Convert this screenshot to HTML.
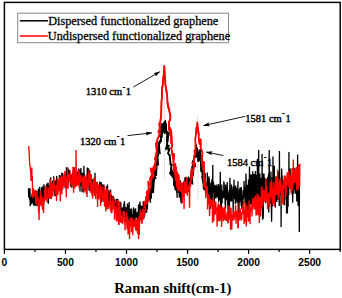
<!DOCTYPE html>
<html><head><meta charset="utf-8"><style>
html,body{margin:0;padding:0;background:#fff;}
svg{display:block;}
.ser{font-family:"Liberation Serif",serif;}
</style></head><body>
<svg width="342" height="298" viewBox="0 0 342 298">
<rect x="0" y="0" width="342" height="298" fill="#fff"/>
<line x1="164.7" y1="97" x2="164.7" y2="121" stroke="#999" stroke-width="0.6" stroke-dasharray="1,1"/>
<line x1="197.6" y1="116.5" x2="197.6" y2="123" stroke="#aaa" stroke-width="0.6" stroke-dasharray="1,1"/>
<line x1="164.5" y1="135" x2="164.5" y2="180" stroke="#aaa" stroke-width="0.6" stroke-dasharray="1,1"/>
<line x1="198" y1="165" x2="198" y2="200" stroke="#aaa" stroke-width="0.6" stroke-dasharray="1,1"/>
<polyline fill="none" stroke="#000" stroke-width="1.3" stroke-linejoin="miter" points="28.50,188.2 28.67,196.6 28.84,196.9 29.01,188.6 29.18,190.6 29.35,190.6 29.52,197.3 29.69,194.9 29.86,200.3 30.03,188.2 30.20,206.2 30.37,197.3 30.54,201.9 30.71,197.8 30.88,196.9 31.05,201.7 31.22,204.1 31.39,198.8 31.56,199.4 31.73,204.3 31.90,196.6 32.07,193.7 32.24,203.1 32.41,197.6 32.58,191.6 32.75,196.8 32.92,198.4 33.09,194.9 33.26,193.4 33.43,200.7 33.60,205.5 33.77,199.3 33.94,196.8 34.11,202.5 34.28,204.3 34.45,198.7 34.62,203.2 34.79,205.9 34.96,199.0 35.13,196.0 35.30,201.7 35.47,201.0 35.64,205.6 35.81,193.2 35.98,196.0 36.15,195.1 36.32,190.6 36.49,199.5 36.66,201.6 36.83,195.0 37.00,206.2 37.17,202.9 37.34,201.6 37.51,200.2 37.68,203.2 37.85,191.3 38.02,201.0 38.19,200.8 38.36,188.8 38.53,199.1 38.70,195.8 38.87,201.3 39.04,194.7 39.21,196.5 39.38,198.4 39.55,186.7 39.72,199.6 39.89,195.6 40.06,198.7 40.23,193.3 40.40,201.8 40.57,198.9 40.74,194.6 40.91,198.8 41.08,202.2 41.25,205.0 41.42,187.3 41.59,199.7 41.76,197.2 41.93,194.0 42.10,189.5 42.27,201.2 42.44,188.0 42.61,197.1 42.78,201.1 42.95,186.0 43.12,192.1 43.29,187.1 43.46,194.6 43.63,201.6 43.80,204.3 43.97,184.3 44.14,189.9 44.31,196.5 44.48,201.3 44.65,194.6 44.82,188.6 44.99,193.7 45.16,191.8 45.33,190.8 45.50,188.1 45.67,193.6 45.84,193.1 46.01,190.7 46.18,190.0 46.35,184.8 46.52,188.5 46.69,197.4 46.86,189.6 47.03,183.5 47.20,197.7 47.37,193.1 47.54,201.8 47.71,190.2 47.88,187.5 48.05,182.6 48.22,196.8 48.39,203.7 48.56,185.2 48.73,185.9 48.90,192.2 49.07,184.8 49.24,187.3 49.41,186.8 49.58,189.4 49.75,194.3 49.92,188.2 50.09,193.1 50.26,185.8 50.43,189.5 50.60,177.3 50.77,180.5 50.94,197.6 51.11,184.4 51.28,190.4 51.45,190.0 51.62,194.3 51.79,191.3 51.96,192.3 52.13,186.0 52.30,183.0 52.47,182.8 52.64,183.8 52.81,180.6 52.98,183.3 53.15,185.4 53.32,187.1 53.49,183.9 53.66,176.2 53.83,185.0 54.00,186.5 54.17,191.2 54.34,188.2 54.51,181.8 54.68,181.2 54.85,195.9 55.02,188.7 55.19,194.6 55.36,196.2 55.53,180.2 55.70,186.2 55.87,186.5 56.04,186.9 56.21,186.7 56.38,184.7 56.55,184.4 56.72,176.1 56.89,182.4 57.06,179.5 57.23,183.6 57.40,180.6 57.57,186.2 57.74,187.2 57.91,184.2 58.08,184.1 58.25,182.7 58.42,180.0 58.59,181.2 58.76,179.5 58.93,183.9 59.10,181.7 59.27,184.8 59.44,175.0 59.61,186.2 59.78,177.5 59.95,177.5 60.12,180.0 60.29,178.2 60.46,182.4 60.63,178.0 60.80,175.5 60.97,176.6 61.14,187.9 61.31,180.7 61.48,174.8 61.65,180.4 61.82,172.8 61.99,190.2 62.16,172.8 62.33,182.7 62.50,183.0 62.67,173.0 62.84,181.5 63.01,185.4 63.18,182.3 63.35,181.1 63.52,184.9 63.69,180.4 63.86,181.3 64.03,178.8 64.20,182.9 64.37,174.7 64.54,183.6 64.71,176.7 64.88,173.8 65.05,181.0 65.22,188.4 65.39,184.2 65.56,176.3 65.73,182.6 65.90,176.5 66.07,178.0 66.24,179.0 66.41,167.3 66.58,179.4 66.75,173.4 66.92,174.9 67.09,171.1 67.26,170.8 67.43,173.5 67.60,182.6 67.77,187.2 67.94,177.7 68.11,183.9 68.28,176.4 68.45,168.4 68.62,178.4 68.79,180.0 68.96,175.4 69.13,179.0 69.30,180.5 69.47,173.1 69.64,170.1 69.81,176.0 69.98,176.0 70.15,175.3 70.32,182.5 70.49,186.6 70.66,174.9 70.83,180.8 71.00,182.1 71.17,180.8 71.34,182.7 71.51,174.9 71.68,180.9 71.85,188.1 72.02,181.2 72.19,173.8 72.36,180.1 72.53,183.8 72.70,178.7 72.87,173.9 73.04,185.3 73.21,170.6 73.38,179.4 73.55,176.5 73.72,170.8 73.89,183.3 74.06,178.4 74.23,170.9 74.40,179.8 74.57,174.4 74.74,167.3 74.91,173.1 75.08,177.8 75.25,179.9 75.42,177.2 75.59,176.6 75.76,178.9 75.93,175.2 76.10,182.8 76.27,177.0 76.44,177.8 76.61,179.2 76.78,171.1 76.95,172.7 77.12,184.7 77.29,178.0 77.46,174.7 77.63,178.0 77.80,173.7 77.97,177.6 78.14,172.8 78.31,177.6 78.48,168.6 78.65,183.6 78.82,173.8 78.99,168.7 79.16,175.3 79.33,174.6 79.50,177.3 79.67,171.0 79.84,178.8 80.01,191.6 80.18,170.5 80.35,178.6 80.52,175.2 80.69,179.2 80.86,168.1 81.03,171.3 81.20,179.5 81.37,176.8 81.54,186.2 81.71,173.7 81.88,178.1 82.05,192.2 82.22,173.5 82.39,172.9 82.56,177.1 82.73,177.1 82.90,182.1 83.07,178.2 83.24,173.9 83.41,178.7 83.58,192.4 83.75,184.8 83.92,165.7 84.09,177.1 84.26,173.6 84.43,181.3 84.60,177.1 84.77,188.8 84.94,183.2 85.11,183.1 85.28,179.2 85.45,178.1 85.62,180.3 85.79,185.7 85.96,181.6 86.13,177.0 86.30,185.9 86.47,180.0 86.64,178.6 86.81,175.3 86.98,176.5 87.15,176.2 87.32,167.4 87.49,185.2 87.66,182.8 87.83,178.7 88.00,185.7 88.17,182.4 88.34,182.1 88.51,168.2 88.68,179.1 88.85,183.3 89.02,189.4 89.19,190.8 89.36,188.6 89.53,175.1 89.70,170.3 89.87,184.1 90.04,181.2 90.21,186.5 90.38,180.6 90.55,182.6 90.72,174.2 90.89,184.0 91.06,179.5 91.23,183.7 91.40,184.4 91.57,181.4 91.74,183.8 91.91,182.1 92.08,186.5 92.25,185.2 92.42,179.8 92.59,179.7 92.76,192.4 92.93,182.3 93.10,188.4 93.27,185.2 93.44,180.4 93.61,179.6 93.78,183.9 93.95,184.8 94.12,186.9 94.29,177.5 94.46,180.8 94.63,183.3 94.80,192.8 94.97,172.7 95.14,186.6 95.31,181.7 95.48,186.9 95.65,182.3 95.82,189.5 95.99,193.8 96.16,187.1 96.33,187.8 96.50,187.6 96.67,182.1 96.84,188.9 97.01,185.0 97.18,182.3 97.35,186.2 97.52,185.4 97.69,190.9 97.86,186.7 98.03,184.5 98.20,195.4 98.37,192.9 98.54,194.7 98.71,191.1 98.88,187.4 99.05,186.0 99.22,186.9 99.39,193.7 99.56,189.2 99.73,181.6 99.90,188.7 100.07,182.3 100.24,190.2 100.41,183.6 100.58,183.5 100.75,190.4 100.92,189.5 101.09,182.1 101.26,194.5 101.43,202.5 101.60,183.5 101.77,201.0 101.94,187.6 102.11,188.7 102.28,190.4 102.45,184.5 102.62,198.9 102.79,194.5 102.96,188.4 103.13,190.8 103.30,185.0 103.47,190.8 103.64,197.9 103.81,184.6 103.98,190.9 104.15,195.0 104.32,199.2 104.49,201.0 104.66,191.5 104.83,190.3 105.00,196.5 105.17,192.4 105.34,192.9 105.51,200.6 105.68,204.1 105.85,196.3 106.02,194.1 106.19,198.4 106.36,186.3 106.53,195.4 106.70,190.6 106.87,209.3 107.04,200.1 107.21,197.0 107.38,195.4 107.55,184.6 107.72,200.7 107.89,206.0 108.06,193.6 108.23,201.1 108.40,201.4 108.57,190.1 108.74,203.0 108.91,205.5 109.08,199.4 109.25,197.9 109.42,202.8 109.59,191.2 109.76,199.3 109.93,204.8 110.10,193.1 110.27,204.8 110.44,197.4 110.61,189.6 110.78,199.3 110.95,195.3 111.12,201.9 111.29,194.7 111.46,206.3 111.63,197.1 111.80,202.8 111.97,198.1 112.14,199.6 112.31,208.0 112.48,202.7 112.65,199.8 112.82,195.8 112.99,208.5 113.16,206.3 113.33,200.8 113.50,203.9 113.67,197.7 113.84,198.0 114.01,199.0 114.18,205.2 114.35,205.0 114.52,199.9 114.69,207.8 114.86,208.3 115.03,205.0 115.20,210.0 115.37,202.9 115.54,203.9 115.71,207.2 115.88,204.5 116.05,209.3 116.22,199.0 116.39,213.1 116.56,201.5 116.73,204.6 116.90,198.9 117.07,209.0 117.24,212.9 117.41,211.9 117.58,210.7 117.75,198.7 117.92,202.6 118.09,204.3 118.26,202.1 118.43,213.0 118.60,207.9 118.77,206.9 118.94,209.9 119.11,202.7 119.28,203.1 119.45,203.3 119.62,210.5 119.79,209.7 119.96,211.2 120.13,214.1 120.30,201.7 120.47,205.7 120.64,209.3 120.81,202.2 120.98,206.2 121.15,214.6 121.32,215.2 121.49,215.2 121.66,209.6 121.83,208.4 122.00,215.6 122.17,207.9 122.34,211.8 122.51,217.4 122.68,208.4 122.85,207.3 123.02,210.4 123.19,213.9 123.36,213.4 123.53,211.7 123.70,214.1 123.87,203.4 124.04,207.1 124.21,212.3 124.38,201.3 124.55,205.2 124.72,206.0 124.89,207.5 125.06,211.2 125.23,207.2 125.40,213.5 125.57,221.8 125.74,211.7 125.91,219.6 126.08,214.2 126.25,207.2 126.42,211.5 126.59,208.1 126.76,217.2 126.93,207.4 127.10,220.5 127.27,216.4 127.44,203.5 127.61,217.7 127.78,222.1 127.95,209.7 128.12,219.1 128.29,205.0 128.46,215.1 128.63,205.8 128.80,216.6 128.97,205.4 129.14,202.1 129.31,216.4 129.48,225.0 129.65,211.5 129.82,219.1 129.99,215.1 130.16,213.0 130.33,218.1 130.50,223.9 130.67,208.9 130.84,218.1 131.01,216.9 131.18,208.2 131.35,224.0 131.52,225.0 131.69,210.4 131.86,224.7 132.03,215.3 132.20,214.2 132.37,223.4 132.54,216.3 132.71,216.8 132.88,223.5 133.05,222.2 133.22,220.0 133.39,208.3 133.56,207.5 133.73,221.3 133.90,210.6 134.07,215.8 134.24,209.8 134.41,214.1 134.58,208.9 134.75,224.1 134.92,210.1 135.09,214.4 135.26,214.1 135.43,221.8 135.60,208.2 135.77,214.8 135.94,214.0 136.11,218.0 136.28,217.6 136.45,212.8 136.62,216.3 136.79,213.2 136.96,217.6 137.13,214.5 137.30,211.9 137.47,214.9 137.64,217.0 137.81,225.0 137.98,212.6 138.15,216.6 138.32,222.9 138.49,204.6 138.66,206.1 138.83,208.6 139.00,213.7 139.17,225.0 139.34,216.1 139.51,220.6 139.68,212.6 139.85,201.7 140.02,202.3 140.19,219.0 140.36,214.1 140.53,206.7 140.70,219.1 140.87,205.3 141.04,218.9 141.21,220.6 141.38,208.6 141.55,206.8 141.72,216.8 141.89,206.6 142.06,216.6 142.23,205.9 142.40,216.0 142.57,211.9 142.74,209.1 142.91,206.8 143.08,212.1 143.25,201.2 143.42,208.6 143.59,207.5 143.76,212.8 143.93,202.5 144.10,217.7 144.27,206.1 144.44,201.7 144.61,214.5 144.78,215.6 144.95,204.9 145.12,201.1 145.29,205.0 145.46,201.1 145.63,202.5 145.80,212.3 145.97,205.3 146.56,203.4 146.60,206.6 145.82,201.4 147.23,206.0 146.28,205.7 146.11,198.6 147.24,200.5 146.53,213.0 146.85,201.4 147.73,197.7 147.35,209.6 147.48,197.7 148.45,191.9 149.02,200.5 148.96,192.0 149.23,193.4 147.97,197.2 149.42,194.3 149.19,190.7 148.94,191.2 149.36,190.5 149.48,199.4 149.25,188.9 148.88,189.1 150.44,202.7 150.54,188.1 151.36,198.6 151.41,197.1 151.01,188.5 151.58,181.9 152.16,190.7 150.99,191.4 151.42,192.5 151.91,186.9 151.11,192.6 151.44,193.1 152.66,179.7 152.17,192.2 152.87,184.6 152.70,180.3 153.68,180.9 153.27,192.4 153.36,186.8 153.28,172.1 153.01,180.6 152.86,178.8 155.56,178.1 154.32,175.9 154.92,170.8 153.94,182.0 154.92,172.1 155.04,174.3 154.46,172.6 156.36,172.6 156.22,175.4 155.39,173.5 156.33,169.7 156.54,168.0 156.35,168.2 156.49,170.9 156.43,167.7 156.52,166.9 155.82,164.5 156.59,163.6 157.30,163.8 157.04,157.4 158.02,165.2 157.59,157.7 157.20,157.1 157.12,160.9 157.48,156.8 158.19,155.1 158.25,152.3 156.92,148.6 159.05,151.9 159.85,153.4 158.64,146.4 159.51,150.7 158.94,142.6 160.35,142.1 159.26,143.7 159.80,140.8 160.94,141.1 160.81,135.8 160.23,133.5 161.33,129.8 161.14,130.0 161.57,128.8 161.10,126.6 161.27,131.6 161.44,128.4 161.61,124.2 161.78,137.4 161.95,127.2 162.12,125.7 162.29,133.0 162.46,132.5 162.63,125.3 162.80,124.0 162.97,125.1 163.14,131.1 163.31,126.4 163.48,124.6 163.65,126.9 163.82,130.5 163.99,122.6 164.16,125.6 164.33,122.5 164.50,133.1 164.67,132.0 164.84,129.5 165.01,126.5 165.18,129.0 165.35,120.9 165.52,128.3 165.69,123.6 165.86,123.9 166.03,126.1 166.20,128.3 166.37,132.2 166.54,133.7 166.71,133.6 166.88,131.3 167.97,137.5 168.20,136.4 166.86,141.6 167.06,136.6 168.05,132.3 167.72,140.5 166.18,148.8 168.83,145.7 167.65,145.3 168.40,149.4 168.34,149.8 168.71,151.2 169.46,148.5 168.17,153.3 169.24,155.2 168.68,154.5 169.57,154.8 170.10,159.7 170.69,163.4 170.13,164.1 171.94,165.0 171.18,165.9 171.53,172.1 171.40,166.9 170.98,169.8 171.01,173.0 170.92,168.9 171.66,170.3 169.98,173.1 171.69,175.6 172.13,172.9 171.48,173.9 171.85,174.0 172.90,171.4 173.19,177.9 173.19,174.9 171.81,171.6 174.45,176.3 173.37,172.7 175.49,175.1 173.82,178.3 174.34,168.6 173.92,185.3 174.74,172.8 175.56,181.9 174.99,184.1 175.48,189.7 175.44,187.2 174.21,183.9 175.76,183.5 175.14,183.3 176.02,190.5 175.30,181.5 176.87,188.0 175.90,184.9 177.66,186.9 176.36,184.5 177.26,197.9 176.13,183.0 177.19,187.8 176.81,188.2 177.78,190.2 178.47,189.6 178.44,189.6 177.56,193.0 178.10,180.5 178.27,188.0 178.44,182.2 178.61,189.6 178.78,182.9 178.95,184.1 179.12,188.7 179.29,197.0 179.46,192.6 179.63,191.3 179.80,197.7 179.97,185.5 180.14,180.0 180.31,187.9 180.48,188.5 180.65,196.7 180.82,201.7 180.99,183.3 181.16,203.5 181.33,198.3 181.50,194.2 181.67,191.5 181.84,202.9 182.01,189.7 182.18,186.9 182.35,189.9 182.52,182.5 182.69,191.6 182.86,188.4 183.03,190.7 183.20,190.8 183.37,183.6 183.54,196.0 183.71,183.7 183.88,193.5 184.05,180.8 184.22,190.5 184.39,184.4 184.56,188.5 184.73,185.1 184.90,177.6 185.07,182.6 185.24,188.2 185.41,191.1 185.58,180.3 185.75,176.9 185.92,182.7 186.09,185.7 186.26,183.5 186.43,182.4 186.60,190.8 186.77,191.3 186.94,189.8 187.11,180.9 187.28,185.7 187.45,184.1 187.62,177.9 187.79,189.5 187.96,184.9 188.13,181.8 188.30,191.9 188.47,188.0 188.64,188.3 188.81,190.0 188.98,187.1 188.44,176.6 189.10,180.4 188.86,187.5 190.28,177.7 190.04,181.2 190.35,182.8 189.30,188.2 189.75,187.0 189.93,184.3 190.87,178.0 191.06,183.6 189.69,181.0 191.95,176.6 192.53,184.3 190.45,178.9 191.17,171.8 192.32,181.9 191.58,173.4 191.99,175.3 192.25,168.3 191.45,172.2 192.38,168.6 192.14,167.7 192.83,164.0 193.23,175.3 193.56,167.6 193.62,167.9 193.29,169.7 194.03,165.1 195.29,166.0 193.73,159.3 192.52,162.8 193.93,159.9 194.02,161.5 193.86,159.4 194.75,153.5 194.74,151.0 195.39,152.4 195.89,157.0 197.23,155.6 196.33,155.1 196.12,147.4 196.29,145.0 196.46,150.8 196.63,151.2 196.80,150.0 196.97,152.4 197.14,150.6 197.31,148.2 197.48,149.7 197.65,153.4 197.82,153.8 197.99,154.0 198.16,161.6 198.33,154.6 198.50,156.4 198.67,153.4 198.84,155.7 198.96,158.7 197.96,159.3 198.42,157.5 198.79,161.1 199.47,158.9 198.65,153.5 200.13,149.7 201.00,166.8 200.67,162.7 201.34,160.5 200.54,155.9 201.18,158.3 201.10,167.4 201.63,156.0 201.94,164.5 200.84,169.2 200.84,168.1 201.26,171.1 202.69,169.5 202.55,178.2 203.02,169.1 202.05,169.2 202.80,175.2 203.22,179.8 201.94,175.9 203.01,183.7 203.63,173.7 203.74,169.7 203.31,187.7 203.82,189.3 204.53,189.7 204.60,177.2 204.90,172.7 204.87,173.2 204.74,180.4 205.28,186.3 205.13,190.7 205.30,173.6 205.47,185.5 205.64,184.9 205.81,186.0 205.98,185.8 206.15,184.7 206.32,190.2 206.49,187.3 206.66,188.1 206.83,182.0 207.00,189.6 207.17,186.3 207.34,172.5 207.51,190.7 207.68,183.4 207.85,193.9 208.02,186.9 208.19,187.5 208.36,189.7 208.53,188.4 208.70,181.5 208.87,176.3 209.04,201.0 209.21,178.2 209.38,187.0 209.55,199.3 209.72,195.4 209.89,193.6 210.06,195.0 210.23,198.3 210.40,192.1 210.57,209.1 210.74,183.2 210.91,191.8 211.08,187.9 211.25,181.7 211.42,192.4 211.59,200.1 211.76,185.7 211.93,179.3 212.10,195.5 212.27,194.4 212.44,203.6 212.61,197.7 212.78,165.0 212.95,188.8 213.12,192.6 213.29,190.0 213.46,181.7 213.63,191.4 213.80,190.2 213.97,189.9 214.14,188.5 214.31,202.6 214.48,196.2 214.65,197.8 214.82,187.6 214.99,184.7 215.16,190.0 215.33,193.6 215.50,189.6 215.67,189.1 215.84,198.4 216.01,194.2 216.18,185.4 216.35,189.4 216.52,187.8 216.69,193.7 216.86,184.4 217.03,191.4 217.20,197.2 217.37,193.0 217.54,186.4 217.71,188.6 217.88,193.8 218.05,196.2 218.22,198.5 218.39,192.1 218.56,183.9 218.73,202.5 218.90,195.2 219.07,195.9 219.24,195.3 219.41,186.1 219.58,191.2 219.75,195.2 219.92,200.3 220.09,194.0 220.26,171.8 220.43,192.0 220.60,196.0 220.77,213.1 220.94,198.5 221.11,210.1 221.28,215.2 221.45,202.7 221.62,200.2 221.79,184.4 221.96,199.6 222.13,203.1 222.30,190.5 222.47,198.1 222.64,197.0 222.81,191.1 222.98,193.6 223.15,192.6 223.32,198.0 223.49,191.6 223.66,198.2 223.83,181.2 224.00,192.7 224.17,183.0 224.34,191.4 224.51,198.2 224.68,195.0 224.85,194.2 225.02,195.5 225.19,205.3 225.36,187.4 225.53,208.4 225.70,184.6 225.87,192.0 226.04,196.4 226.21,189.4 226.38,196.7 226.55,200.2 226.72,187.1 226.89,195.0 227.06,193.0 227.23,182.1 227.40,192.7 227.57,190.1 227.74,204.5 227.91,189.7 228.08,221.3 228.25,192.2 228.42,208.6 228.59,199.5 228.76,199.0 228.93,201.4 229.10,202.0 229.27,205.3 229.44,207.5 229.61,193.9 229.78,187.6 229.95,177.7 230.12,193.8 230.29,201.5 230.46,199.0 230.63,197.4 230.80,194.2 230.97,192.2 231.14,194.8 231.31,199.3 231.48,184.5 231.65,201.6 231.82,186.7 231.99,195.9 232.16,192.6 232.33,194.4 232.50,189.7 232.67,188.9 232.84,195.4 233.01,189.4 233.18,213.0 233.35,194.1 233.52,186.3 233.69,193.1 233.86,189.5 234.03,179.8 234.20,195.2 234.37,199.0 234.54,186.4 234.71,197.0 234.88,188.5 235.05,196.7 235.22,199.3 235.39,204.1 235.56,203.4 235.73,185.5 235.90,202.7 236.07,193.8 236.24,199.2 236.41,201.5 236.58,194.8 236.75,188.0 236.92,200.9 237.09,189.1 237.26,190.7 237.43,189.2 237.60,202.4 237.77,195.8 237.94,181.2 238.11,201.7 238.28,227.8 238.45,208.6 238.62,193.0 238.79,197.4 238.96,200.2 239.13,202.7 239.30,197.2 239.47,189.3 239.64,201.8 239.81,206.0 239.98,187.6 240.15,194.3 240.32,200.8 240.49,196.6 240.66,200.1 240.83,201.9 241.00,200.1 241.17,195.8 241.34,187.1 241.51,200.5 241.68,205.5 241.85,209.2 242.02,196.1 242.19,196.0 242.36,205.6 242.53,205.5 242.70,198.3 242.87,200.7 243.04,190.7 243.21,199.7 243.38,190.1 243.55,194.8 243.72,194.9 243.89,192.5 244.06,180.9 244.23,189.8 244.40,197.8 244.57,195.1 244.74,192.7 244.91,198.2 245.08,202.2 245.25,203.8 245.42,186.7 245.59,195.4 245.76,191.6 245.93,173.6 246.10,179.3 246.27,193.9 246.44,185.7 246.61,216.4 246.78,193.8 246.95,192.4 247.12,190.5 247.29,213.4 247.46,184.7 247.63,192.8 247.80,186.4 247.97,193.1 248.14,194.0 248.31,205.3 248.48,179.4 248.65,194.0 248.82,210.4 248.99,188.8 249.16,192.2 249.33,184.7 249.50,166.5 249.67,192.8 249.84,205.6 250.01,188.9 250.18,174.4 250.35,199.6 250.52,194.5 250.69,203.6 250.86,202.7 251.03,190.7 251.20,197.5 251.37,174.5 251.54,204.5 251.71,197.4 251.88,204.1 252.05,203.8 252.22,190.1 252.39,191.5 252.56,183.9 252.73,171.3 252.90,191.6 253.07,196.2 253.24,181.4 253.41,199.9 253.58,193.7 253.75,197.2 253.92,184.6 254.09,174.1 254.26,200.3 254.43,198.6 254.60,191.3 254.77,188.0 254.94,189.4 255.11,190.9 255.28,179.7 255.45,171.1 255.62,200.0 255.79,176.4 255.96,188.5 256.13,188.8 256.30,194.6 256.47,174.9 256.64,203.9 256.81,198.4 256.98,199.5 257.15,204.4 257.32,172.2 257.49,158.7 257.66,194.9 257.83,204.7 258.00,203.1 258.17,185.8 258.34,190.4 258.51,194.2 258.68,150.0 258.85,184.3 259.02,184.5 259.19,207.0 259.36,184.3 259.53,206.8 259.70,191.2 259.87,173.4 260.04,213.1 260.21,180.7 260.38,197.1 260.55,207.9 260.72,185.2 260.89,177.9 261.06,201.2 261.23,192.3 261.40,177.8 261.57,179.3 261.74,186.6 261.91,200.3 262.08,154.0 262.25,197.1 262.42,207.0 262.59,219.7 262.76,204.8 262.93,202.7 263.10,173.5 263.27,218.5 263.44,193.6 263.61,189.0 263.78,178.9 263.95,173.5 264.12,178.5 264.29,189.9 264.46,177.8 264.63,181.5 264.80,183.6 264.97,196.7 265.14,182.8 265.31,188.4 265.48,203.2 265.65,186.5 265.82,195.8 265.99,178.7 266.16,193.1 266.33,190.9 266.50,191.5 266.67,184.8 266.84,178.8 267.01,186.5 267.18,184.7 267.35,199.9 267.52,198.6 267.69,176.8 267.86,195.7 268.03,177.8 268.20,193.9 268.37,184.3 268.54,173.8 268.71,212.6 268.88,193.7 269.05,176.3 269.22,150.0 269.39,183.5 269.56,176.7 269.73,185.2 269.90,195.2 270.07,203.7 270.24,185.2 270.41,202.7 270.58,200.6 270.75,184.4 270.92,171.4 271.09,197.4 271.26,195.0 271.43,212.4 271.60,221.8 271.77,206.9 271.94,205.7 272.11,177.8 272.28,193.3 272.45,185.9 272.62,206.2 272.79,194.4 272.96,156.6 273.13,202.4 273.30,179.2 273.47,196.5 273.64,183.7 273.81,191.2 273.98,195.1 274.15,190.6 274.32,165.8 274.49,202.7 274.66,192.6 274.83,188.5 275.00,195.7 275.17,183.0 275.34,207.5 275.51,190.9 275.68,192.3 275.85,192.1 276.02,179.0 276.19,176.2 276.36,190.7 276.53,192.1 276.70,202.0 276.87,193.0 277.04,177.1 277.21,193.7 277.38,196.7 277.55,198.5 277.72,191.8 277.89,175.6 278.06,200.0 278.23,180.7 278.40,194.1 278.57,171.8 278.74,196.0 278.91,180.1 279.08,199.1 279.25,205.9 279.42,151.0 279.59,176.0 279.76,178.3 279.93,179.1 280.10,194.8 280.27,191.6 280.44,189.7 280.61,191.2 280.78,193.9 280.95,194.6 281.12,227.1 281.29,187.5 281.46,190.0 281.63,168.5 281.80,174.1 281.97,180.7 282.14,175.5 282.31,190.1 282.48,198.3 282.65,183.3 282.82,182.7 282.99,182.4 283.16,189.1 283.33,182.0 283.50,192.0 283.67,190.7 283.84,191.1 284.01,195.3 284.18,187.9 284.35,189.0 284.52,205.2 284.69,187.1 284.86,195.5 285.03,188.1 285.20,176.4 285.37,182.7 285.54,178.8 285.71,187.5 285.88,181.1 286.05,182.9 286.22,199.6 286.39,185.9 286.56,213.5 286.73,190.0 286.90,195.9 287.07,180.9 287.24,188.7 287.41,213.6 287.58,195.5 287.75,197.2 287.92,189.5 288.09,206.8 288.26,174.9 288.43,178.2 288.60,191.4 288.77,195.3 288.94,152.0 289.11,185.1 289.28,183.2 289.45,182.3 289.62,174.4 289.79,171.9 289.96,184.8 290.13,168.6 290.30,176.6 290.47,179.9 290.64,175.8 290.81,189.2 290.98,182.2 291.15,186.0 291.32,176.2 291.49,179.0 291.66,191.9 291.83,190.4 292.00,181.9 292.17,194.8 292.34,188.6 292.51,188.3 292.68,202.7 292.85,182.5 293.02,190.9 293.19,190.9 293.36,184.2 293.53,174.5 293.70,193.6 293.87,189.3 294.04,187.2 294.21,186.9 294.38,186.7 294.55,177.2 294.72,189.6 294.89,167.7 295.06,186.3 295.23,170.9 295.40,182.9 295.57,193.7 295.74,183.8 295.91,181.5 296.08,191.7 296.25,183.7 296.42,182.2 296.59,176.3 296.76,201.6 296.93,193.1 297.10,191.3 297.27,174.0 297.44,192.7 297.61,154.5 297.78,191.2 297.95,174.7 298.12,206.0 298.29,168.7 298.46,198.6 298.63,194.4 298.80,167.7 298.97,183.8 299.14,200.8 299.31,232.0 299.48,169.0"/>
<polyline fill="none" stroke="#000" stroke-width="1.7" stroke-linejoin="round" points="152.16,190.7 152.66,179.7 152.17,192.2 152.87,184.6 152.70,180.3 153.68,180.9 153.27,192.4 153.36,186.8 153.28,172.1 153.01,180.6 152.86,178.8 155.56,178.1 154.32,175.9 154.92,170.8 153.94,182.0 154.92,172.1 155.04,174.3 154.46,172.6 156.36,172.6 156.22,175.4 155.39,173.5 156.33,169.7 156.54,168.0 156.35,168.2 156.49,170.9 156.43,167.7 156.52,166.9 155.82,164.5 156.59,163.6 157.30,163.8 157.04,157.4 158.02,165.2 157.59,157.7 157.20,157.1 157.12,160.9 157.48,156.8 158.19,155.1 158.25,152.3 156.92,148.6 159.05,151.9 159.85,153.4 158.64,146.4 159.51,150.7 158.94,142.6 160.35,142.1 159.26,143.7 159.80,140.8 160.94,141.1 160.81,135.8 160.23,133.5 161.33,129.8 161.14,130.0 161.57,128.8 161.10,126.6 161.27,131.6 161.44,128.4 161.61,124.2 161.78,137.4 161.95,127.2 162.12,125.7 162.29,133.0 162.46,132.5 162.63,125.3 162.80,124.0 162.97,125.1 163.14,131.1 163.31,126.4 163.48,124.6 163.65,126.9 163.82,130.5 163.99,122.6 164.16,125.6 164.33,122.5 164.50,133.1 164.67,132.0 164.84,129.5 165.01,126.5 165.18,129.0 165.35,120.9 165.52,128.3 165.69,123.6 165.86,123.9 166.03,126.1 166.20,128.3 166.37,132.2 166.54,133.7 166.71,133.6 166.88,131.3 167.97,137.5 168.20,136.4 166.86,141.6 167.06,136.6 168.05,132.3 167.72,140.5 166.18,148.8 168.83,145.7 167.65,145.3 168.40,149.4 168.34,149.8 168.71,151.2 169.46,148.5 168.17,153.3 169.24,155.2 168.68,154.5 169.57,154.8 170.10,159.7 170.69,163.4 170.13,164.1 171.94,165.0 171.18,165.9 171.53,172.1 171.40,166.9 170.98,169.8 171.01,173.0 170.92,168.9 171.66,170.3 169.98,173.1 171.69,175.6 172.13,172.9 171.48,173.9 171.85,174.0 172.90,171.4 173.19,177.9 173.19,174.9 171.81,171.6 174.45,176.3 173.37,172.7 175.49,175.1 173.82,178.3 174.34,168.6 173.92,185.3 174.74,172.8 175.56,181.9 174.99,184.1 175.48,189.7 175.44,187.2 174.21,183.9 175.76,183.5 175.14,183.3 175.30,181.5 175.90,184.9"/>
<polyline fill="none" stroke="#000" stroke-width="1.5" stroke-linejoin="round" points="192.53,184.3 192.32,181.9 192.25,168.3 192.38,168.6 192.14,167.7 192.83,164.0 193.23,175.3 193.56,167.6 193.62,167.9 193.29,169.7 194.03,165.1 195.29,166.0 193.73,159.3 192.52,162.8 193.93,159.9 194.02,161.5 193.86,159.4 194.75,153.5 194.74,151.0 195.39,152.4 195.89,157.0 197.23,155.6 196.33,155.1 196.12,147.4 196.29,145.0 196.46,150.8 196.63,151.2 196.80,150.0 196.97,152.4 197.14,150.6 197.31,148.2 197.48,149.7 197.65,153.4 197.82,153.8 197.99,154.0 198.16,161.6 198.33,154.6 198.50,156.4 198.67,153.4 198.84,155.7 198.96,158.7 197.96,159.3 198.42,157.5 198.79,161.1 199.47,158.9 198.65,153.5 200.13,149.7 201.00,166.8 200.67,162.7 201.34,160.5 200.54,155.9 201.18,158.3 201.10,167.4 201.63,156.0 201.94,164.5 200.84,169.2 200.84,168.1 201.26,171.1 202.69,169.5 202.55,178.2 202.05,169.2 202.80,175.2 201.94,175.9"/>
<polyline fill="none" stroke="#f00" stroke-width="1.35" stroke-linejoin="miter" points="28.80,146.0 29.05,151.3 29.30,156.7 29.55,162.0 29.80,165.2 30.05,165.4 30.30,169.0 30.55,170.9 30.80,173.1 31.05,181.0 31.30,174.9 31.55,179.6 31.80,167.6 32.05,179.4 32.30,175.9 32.55,194.5 32.80,198.3 33.05,192.9 33.30,188.1 33.55,194.4 33.80,196.1 34.05,191.2 34.30,191.8 34.55,194.3 34.80,190.0 35.05,195.1 35.30,196.8 35.55,194.7 35.80,203.7 36.05,190.6 36.30,204.4 36.55,195.8 36.80,196.4 37.05,192.5 37.30,198.7 37.55,198.3 37.80,201.0 38.05,197.2 38.30,200.6 38.55,212.5 38.80,203.1 39.05,220.0 39.30,207.1 39.55,200.1 39.80,204.9 40.05,205.1 40.30,198.8 40.55,190.9 40.80,198.5 41.05,203.8 41.30,195.5 41.55,202.6 41.80,206.0 42.05,196.4 42.30,207.3 42.55,209.7 42.80,205.8 43.05,206.2 43.30,205.5 43.55,213.1 43.80,198.8 44.05,197.4 44.30,201.2 44.55,192.4 44.80,188.9 45.05,192.0 45.30,198.8 45.55,199.2 45.80,188.1 46.05,186.1 46.30,193.7 46.55,194.2 46.80,194.6 47.05,199.2 47.30,202.8 47.55,195.8 47.80,198.1 48.05,188.3 48.30,187.6 48.55,194.9 48.80,197.6 49.05,197.8 49.30,196.7 49.55,197.7 49.80,197.7 50.05,179.0 50.30,188.1 50.55,198.7 50.80,195.4 51.05,183.6 51.30,198.9 51.55,188.6 51.80,189.4 52.05,192.2 52.30,195.3 52.55,182.8 52.80,196.5 53.05,190.1 53.30,185.5 53.55,187.8 53.80,178.0 54.05,185.5 54.30,189.8 54.55,184.8 54.80,186.5 55.05,187.2 55.30,188.5 55.55,194.5 55.80,187.2 56.05,185.9 56.30,190.6 56.55,200.9 56.80,184.8 57.05,189.8 57.30,178.3 57.55,195.1 57.80,190.2 58.05,194.6 58.30,185.1 58.55,179.9 58.80,191.0 59.05,189.9 59.30,180.2 59.55,177.0 59.80,187.2 60.05,183.1 60.30,201.6 60.55,180.7 60.80,181.0 61.05,182.9 61.30,175.0 61.55,178.8 61.80,194.3 62.05,182.3 62.30,179.8 62.55,176.4 62.80,186.5 63.05,187.0 63.30,184.1 63.55,180.3 63.80,184.2 64.05,184.6 64.30,178.4 64.55,186.0 64.80,171.0 65.05,175.0 65.30,179.8 65.55,180.7 65.80,175.3 66.05,183.2 66.30,197.4 66.55,183.8 66.80,182.1 67.05,186.1 67.30,186.7 67.55,167.2 67.80,179.1 68.05,188.8 68.30,174.2 68.55,180.1 68.80,177.7 69.05,175.0 69.30,174.3 69.55,179.9 69.80,181.2 70.05,181.1 70.30,171.7 70.55,177.5 70.80,181.3 71.05,185.3 71.30,183.4 71.55,184.5 71.80,186.2 72.05,184.3 72.30,174.6 72.55,179.1 72.80,175.1 73.05,166.7 73.30,170.2 73.55,192.8 73.80,172.9 74.05,167.3 74.30,175.5 74.55,188.8 74.80,178.2 75.05,181.1 75.30,177.0 75.55,177.9 75.80,186.9 76.05,150.0 76.30,177.8 76.55,184.2 76.80,185.5 77.05,177.0 77.30,179.9 77.55,179.8 77.80,174.7 78.05,185.8 78.30,176.2 78.55,175.1 78.80,169.8 79.05,172.0 79.30,188.7 79.55,172.7 79.80,181.4 80.05,176.7 80.30,182.1 80.55,182.8 80.80,174.9 81.05,177.4 81.30,179.6 81.55,179.8 81.80,178.9 82.05,177.6 82.30,183.5 82.55,188.3 82.80,183.0 83.05,175.7 83.30,182.2 83.55,180.0 83.80,182.8 84.05,192.3 84.30,178.7 84.55,179.8 84.80,175.5 85.05,178.6 85.30,177.3 85.55,191.2 85.80,182.5 86.05,177.8 86.30,193.9 86.55,174.3 86.80,186.9 87.05,197.1 87.30,185.3 87.55,180.2 87.80,181.0 88.05,180.1 88.30,187.3 88.55,170.5 88.80,179.7 89.05,183.5 89.30,179.7 89.55,173.6 89.80,181.7 90.05,179.3 90.30,188.6 90.55,192.8 90.80,184.0 91.05,174.0 91.30,182.8 91.55,179.3 91.80,188.7 92.05,195.7 92.30,186.5 92.55,198.4 92.80,195.0 93.05,189.6 93.30,180.7 93.55,186.6 93.80,178.6 94.05,193.3 94.30,187.2 94.55,195.9 94.80,188.7 95.05,177.0 95.30,191.7 95.55,193.9 95.80,199.1 96.05,182.9 96.30,183.4 96.55,189.0 96.80,183.3 97.05,181.9 97.30,183.5 97.55,207.1 97.80,186.3 98.05,184.6 98.30,187.6 98.55,190.3 98.80,199.3 99.05,197.2 99.30,196.4 99.55,191.6 99.80,192.6 100.05,188.4 100.30,184.3 100.55,206.1 100.80,190.0 101.05,199.6 101.30,191.2 101.55,192.6 101.80,192.5 102.05,186.6 102.30,193.4 102.55,196.8 102.80,200.1 103.05,198.0 103.30,201.9 103.55,197.2 103.80,195.4 104.05,185.7 104.30,193.1 104.55,206.7 104.80,197.2 105.05,202.1 105.30,195.8 105.55,190.0 105.80,211.6 106.05,200.5 106.30,208.6 106.55,202.4 106.80,197.5 107.05,188.1 107.30,200.4 107.55,192.1 107.80,189.2 108.05,209.3 108.30,206.1 108.55,205.9 108.80,202.2 109.05,202.0 109.30,205.4 109.55,204.0 109.80,203.7 110.05,208.6 110.30,191.5 110.55,210.4 110.80,201.3 111.05,210.8 111.30,213.3 111.55,201.3 111.80,211.4 112.05,211.6 112.30,202.9 112.55,200.9 112.80,207.9 113.05,196.3 113.30,205.5 113.55,209.4 113.80,206.2 114.05,200.7 114.30,207.1 114.55,219.8 114.80,218.8 115.05,209.5 115.30,206.3 115.55,210.5 115.80,210.9 116.05,207.7 116.30,209.6 116.55,221.4 116.80,218.2 117.05,199.9 117.30,219.0 117.55,213.5 117.80,220.7 118.05,213.0 118.30,216.3 118.55,224.7 118.80,200.8 119.05,224.9 119.30,215.6 119.55,205.4 119.80,201.8 120.05,217.2 120.30,210.2 120.55,222.4 120.80,217.3 121.05,215.4 121.30,223.1 121.55,217.9 121.80,221.9 122.05,222.7 122.30,219.5 122.55,222.9 122.80,223.2 123.05,211.2 123.30,216.9 123.55,218.0 123.80,216.9 124.05,211.1 124.30,216.5 124.55,221.9 124.80,221.1 125.05,230.4 125.30,217.2 125.55,218.2 125.80,217.7 126.05,219.1 126.30,217.9 126.55,211.7 126.80,223.6 127.05,228.1 127.30,229.2 127.55,216.3 127.80,220.9 128.05,234.6 128.30,221.7 128.55,224.7 128.80,220.8 129.05,229.5 129.30,229.5 129.55,238.9 129.80,226.6 130.05,226.4 130.30,217.5 130.55,221.7 130.80,220.4 131.05,222.4 131.30,217.4 131.55,232.3 131.80,218.7 132.05,225.9 132.30,217.7 132.55,226.4 132.80,235.3 133.05,219.9 133.30,226.5 133.55,223.7 133.80,225.9 134.05,226.9 134.30,220.8 134.55,223.1 134.80,221.1 135.05,219.9 135.30,217.9 135.55,230.6 135.80,220.3 136.05,228.5 136.30,227.8 136.55,219.0 136.80,231.1 137.05,219.7 137.30,228.3 137.55,233.9 137.80,220.4 138.05,219.3 138.30,218.9 138.55,238.9 138.80,221.1 139.05,216.3 139.30,235.0 139.55,221.0 139.80,221.4 140.05,216.3 140.30,209.8 140.55,216.9 140.80,215.0 141.05,211.8 141.30,213.9 141.55,214.1 141.80,223.8 142.05,222.6 142.30,220.8 142.55,214.2 142.80,210.0 143.12,217.6 142.88,217.3 143.60,219.4 144.42,211.0 142.47,209.0 145.82,210.2 144.14,202.0 144.26,201.1 144.11,208.0 146.14,196.1 146.16,200.7 146.92,205.1 146.85,200.1 146.54,203.8 146.85,190.4 147.64,194.0 146.26,192.0 147.26,196.1 147.89,193.6 147.39,190.0 148.70,201.7 147.98,191.5 149.16,185.4 148.93,182.8 149.47,184.7 147.93,181.0 148.78,194.0 151.01,185.8 150.21,179.8 150.23,177.9 151.42,175.7 151.48,177.7 151.01,182.5 150.72,180.1 153.31,176.2 152.42,176.2 150.64,168.3 153.06,176.4 153.24,171.8 153.53,176.2 152.69,169.6 154.62,167.4 152.88,168.7 154.89,164.6 154.31,170.4 155.83,167.0 154.20,166.5 155.43,162.8 155.81,158.5 155.01,159.5 155.56,156.5 155.43,160.1 156.48,152.3 156.92,151.5 156.29,147.1 157.11,146.0 156.53,144.8 156.83,148.9 155.82,143.2 156.74,144.7 157.44,139.1 158.40,137.4 159.92,132.9 159.04,136.3 159.13,136.7 159.61,130.8 158.29,131.9 159.84,128.9 159.27,124.3 159.78,125.0 160.55,120.0 160.80,118.0 161.05,117.1 161.30,108.7 161.55,100.0 161.80,99.2 162.05,86.9 162.30,88.4 162.55,86.2 162.80,84.5 163.05,80.9 163.30,76.5 163.55,79.8 163.80,72.3 164.05,70.6 164.30,66.0 164.55,70.9 164.80,74.9 165.05,76.8 165.30,83.5 165.55,85.9 165.80,86.3 166.05,87.2 166.30,91.4 166.55,90.6 166.80,93.5 167.05,94.0 167.30,98.4 167.55,104.2 167.80,103.1 168.05,107.5 168.30,106.0 170.38,116.0 170.46,116.4 169.93,120.4 169.79,120.4 170.00,120.5 168.93,121.7 168.92,129.8 170.60,129.9 170.15,127.9 170.10,134.8 170.98,134.3 171.23,143.3 171.72,139.9 171.13,130.4 172.07,146.9 171.18,147.6 173.65,160.9 174.17,154.3 172.06,152.9 173.68,161.1 173.35,160.3 173.90,166.6 174.11,168.2 175.37,164.0 175.05,170.2 174.02,170.8 175.12,166.2 175.28,170.3 174.83,175.0 175.98,167.0 176.03,170.4 177.52,174.4 176.38,176.8 177.20,180.3 175.03,171.5 175.79,180.3 177.84,182.5 177.92,187.6 178.87,178.3 177.26,176.4 178.29,173.8 176.56,185.6 178.30,191.2 178.91,174.7 179.46,186.6 179.30,189.9 180.91,191.1 179.00,183.3 179.40,190.1 181.21,186.2 180.71,182.2 182.50,189.3 182.17,190.5 182.10,183.8 182.05,192.1 182.30,203.2 182.55,182.7 182.80,195.5 183.05,197.3 183.30,191.4 183.55,193.2 183.80,189.5 184.05,209.0 184.30,185.9 184.55,189.8 184.80,180.7 185.05,192.5 185.30,192.7 185.55,181.7 185.80,185.6 186.05,193.1 186.30,187.2 186.55,183.4 186.80,176.8 187.05,190.4 187.30,195.8 187.55,187.2 187.80,190.2 188.05,189.9 188.30,188.0 188.55,188.5 188.80,188.3 189.05,184.6 189.30,195.7 189.55,207.8 189.80,186.5 189.36,190.9 190.05,181.0 190.66,182.4 190.54,186.4 191.16,177.5 191.42,175.3 191.22,179.4 191.35,169.6 192.44,178.4 192.32,174.7 192.57,172.0 193.18,170.5 193.74,165.1 192.18,162.7 194.13,166.1 194.20,161.8 193.93,157.8 194.77,154.9 194.52,151.4 195.44,152.8 195.51,143.9 195.46,142.0 195.30,139.5 195.83,134.7 196.05,132.3 196.30,127.5 196.55,131.7 196.80,131.9 197.05,127.6 197.30,122.3 197.55,124.7 197.80,126.9 198.05,128.5 198.30,129.4 198.55,135.0 198.80,132.9 198.70,138.2 199.02,141.4 199.62,144.1 199.75,142.9 199.78,141.6 200.96,140.4 200.33,139.2 200.79,143.2 201.05,145.1 200.42,146.6 202.60,153.3 201.57,156.1 202.35,155.8 201.44,160.3 202.48,164.0 202.14,164.6 202.85,167.5 203.81,171.9 203.86,161.5 204.05,164.8 204.25,178.1 203.60,178.5 204.09,187.5 205.02,177.5 205.59,189.1 205.48,190.5 205.78,198.1 206.02,182.5 206.05,186.5 206.30,191.3 206.55,192.3 206.80,186.0 207.05,189.4 207.30,186.3 207.55,209.5 207.80,195.1 208.05,196.4 208.30,194.0 208.55,198.4 208.80,204.3 209.05,196.1 209.30,200.7 209.55,215.9 209.80,208.6 210.05,204.9 210.30,198.7 210.55,204.0 210.80,200.3 211.05,206.6 211.30,201.4 211.55,201.4 211.80,203.5 212.05,200.2 212.30,207.7 212.55,223.1 212.80,203.6 213.05,198.3 213.30,213.9 213.55,207.5 213.80,221.2 214.05,211.2 214.30,215.0 214.55,205.1 214.80,200.9 215.05,208.9 215.30,214.4 215.55,205.5 215.80,201.7 216.05,207.3 216.30,208.3 216.55,209.1 216.80,210.9 217.05,226.7 217.30,211.5 217.55,208.8 217.80,205.7 218.05,217.0 218.30,203.3 218.55,221.5 218.80,212.3 219.05,204.3 219.30,213.8 219.55,212.3 219.80,220.9 220.05,205.0 220.30,214.7 220.55,213.5 220.80,219.6 221.05,207.7 221.30,209.8 221.55,227.0 221.80,218.0 222.05,206.5 222.30,216.7 222.55,210.4 222.80,211.0 223.05,208.2 223.30,221.2 223.55,212.0 223.80,216.2 224.05,215.5 224.30,206.8 224.55,211.1 224.80,220.2 225.05,206.7 225.30,216.9 225.55,214.9 225.80,219.6 226.05,220.0 226.30,220.9 226.55,216.1 226.80,217.4 227.05,212.0 227.30,213.0 227.55,221.8 227.80,212.8 228.05,222.7 228.30,222.6 228.55,211.9 228.80,219.9 229.05,205.7 229.30,218.6 229.55,206.3 229.80,218.7 230.05,217.7 230.30,210.9 230.55,229.8 230.80,222.8 231.05,207.8 231.30,218.7 231.55,214.2 231.80,229.7 232.05,216.1 232.30,218.9 232.55,215.4 232.80,220.4 233.05,213.4 233.30,211.4 233.55,213.6 233.80,214.0 234.05,220.3 234.30,216.8 234.55,213.8 234.80,213.9 235.05,211.1 235.30,216.9 235.55,204.9 235.80,214.8 236.05,223.7 236.30,214.0 236.55,212.4 236.80,216.2 237.05,210.8 237.30,211.7 237.55,220.3 237.80,212.3 238.05,228.4 238.30,223.3 238.55,214.9 238.80,212.0 239.05,213.8 239.30,202.6 239.55,216.5 239.80,220.5 240.05,218.3 240.30,208.8 240.55,218.3 240.80,218.3 241.05,213.4 241.30,216.2 241.55,220.5 241.80,216.6 242.05,211.4 242.30,213.4 242.55,214.2 242.80,204.3 243.05,213.8 243.30,212.1 243.55,200.8 243.80,203.1 244.05,224.0 244.30,212.9 244.55,220.8 244.80,209.9 245.05,221.7 245.30,215.3 245.55,202.6 245.80,213.1 246.05,221.3 246.30,226.4 246.55,214.1 246.80,208.2 247.05,205.7 247.30,214.7 247.55,217.2 247.80,210.8 248.05,209.2 248.30,221.7 248.55,212.6 248.80,211.8 249.05,200.7 249.30,207.1 249.55,221.0 249.80,208.5 250.05,224.2 250.30,210.7 250.55,206.5 250.80,209.7 251.05,211.6 251.30,203.5 251.55,208.9 251.80,204.9 252.05,216.4 252.30,204.3 252.55,207.3 252.80,198.1 253.05,198.6 253.30,205.4 253.55,200.7 253.80,203.9 254.05,208.8 254.30,208.7 254.55,197.1 254.80,203.6 255.05,209.4 255.30,199.9 255.55,195.6 255.80,199.3 256.05,215.8 256.30,203.6 256.55,214.9 256.80,201.0 257.05,211.7 257.30,193.2 257.55,200.7 257.80,202.8 258.05,215.2 258.30,205.3 258.55,210.0 258.80,195.2 259.05,198.6 259.30,223.1 259.55,211.6 259.80,210.0 260.05,209.6 260.30,197.0 260.55,216.4 260.80,203.1 261.05,209.4 261.30,205.3 261.55,188.1 261.80,186.7 262.05,188.7 262.30,198.7 262.55,207.2 262.80,197.0 263.05,204.8 263.30,190.2 263.55,194.0 263.80,192.1 264.05,198.0 264.30,190.1 264.55,196.7 264.80,201.6 265.05,194.0 265.30,191.0 265.55,189.9 265.80,178.2 266.05,189.6 266.30,202.1 266.55,198.5 266.80,186.4 267.05,193.8 267.30,198.8 267.55,209.1 267.80,206.2 268.05,202.3 268.30,194.5 268.55,194.4 268.80,192.8 269.05,202.5 269.30,200.5 269.55,207.3 269.80,202.1 270.05,188.2 270.30,183.7 270.55,184.1 270.80,187.2 271.05,197.4 271.30,183.5 271.55,179.2 271.80,191.1 272.05,198.1 272.30,197.7 272.55,204.2 272.80,191.3 273.05,187.7 273.30,189.1 273.55,182.2 273.80,186.4 274.05,200.2 274.30,206.1 274.55,199.7 274.80,192.2 275.05,188.2 275.30,191.4 275.55,177.1 275.80,193.5 276.05,194.9 276.30,186.6 276.55,188.7 276.80,177.3 277.05,194.1 277.30,193.9 277.55,169.7 277.80,183.8 278.05,189.9 278.30,199.7 278.55,181.3 278.80,186.5 279.05,197.6 279.30,189.9 279.55,184.7 279.80,179.1 280.05,186.0 280.30,180.4 280.55,193.0 280.80,179.6 281.05,189.3 281.30,191.9 281.55,205.6 281.80,185.5 282.05,184.7 282.30,187.0 282.55,185.0 282.80,203.8 283.05,183.3 283.30,198.4 283.55,204.7 283.80,179.2 284.05,186.4 284.30,175.5 284.55,188.6 284.80,185.8 285.05,179.8 285.30,175.5 285.55,182.4 285.80,197.2 286.05,194.0 286.30,184.6 286.55,177.5 286.80,181.2 287.05,176.0 287.30,172.2 287.55,174.7 287.80,185.3 288.05,182.9 288.30,181.8 288.55,173.0 288.80,170.9 289.05,187.6 289.30,177.4 289.55,188.6 289.80,174.6 290.05,186.7 290.30,181.1 290.55,176.2 290.80,176.1 291.05,193.3 291.30,185.7 291.55,176.8 291.80,179.6 292.05,168.1 292.30,191.0 292.55,188.4 292.80,175.1 293.05,181.1 293.30,159.4 293.55,184.6 293.80,180.7 294.05,181.8 294.30,183.0 294.55,178.9 294.80,170.0 295.05,171.7 295.30,174.9 295.55,182.7 295.80,175.9 296.05,171.1 296.30,178.0 296.55,167.1 296.80,190.7 297.05,177.1 297.30,168.2 297.55,175.8 297.80,182.5 298.05,178.3 298.30,189.4 298.55,164.6 298.80,185.7 299.05,173.4 299.30,180.1 299.55,186.2 299.80,165.3 300.05,163.7"/>
<polyline fill="none" stroke="#f00" stroke-width="1.8" stroke-linejoin="round" points="151.01,185.8 150.21,179.8 150.23,177.9 151.42,175.7 151.48,177.7 151.01,182.5 150.72,180.1 153.31,176.2 152.42,176.2 150.64,168.3 153.06,176.4 153.24,171.8 153.53,176.2 152.69,169.6 154.62,167.4 152.88,168.7 154.89,164.6 154.31,170.4 155.83,167.0 154.20,166.5 155.43,162.8 155.81,158.5 155.01,159.5 155.56,156.5 155.43,160.1 156.48,152.3 156.92,151.5 156.29,147.1 157.11,146.0 156.53,144.8 156.83,148.9 155.82,143.2 156.74,144.7 157.44,139.1 158.40,137.4 159.92,132.9 159.04,136.3 159.13,136.7 159.61,130.8 158.29,131.9 159.84,128.9 159.27,124.3 159.78,125.0 160.55,120.0 160.80,118.0 161.05,117.1 161.30,108.7 161.55,100.0 161.80,99.2 162.05,86.9 162.30,88.4 162.55,86.2 162.80,84.5 163.05,80.9 163.30,76.5 163.55,79.8 163.80,72.3 164.05,70.6 164.30,66.0 164.55,70.9 164.80,74.9 165.05,76.8 165.30,83.5 165.55,85.9 165.80,86.3 166.05,87.2 166.30,91.4 166.55,90.6 166.80,93.5 167.05,94.0 167.30,98.4 167.55,104.2 167.80,103.1 168.05,107.5 168.30,106.0 170.38,116.0 170.46,116.4 169.93,120.4 169.79,120.4 170.00,120.5 168.93,121.7 168.92,129.8 170.60,129.9 170.15,127.9 170.10,134.8 170.98,134.3 171.23,143.3 171.72,139.9 171.13,130.4 172.07,146.9 171.18,147.6 173.65,160.9 174.17,154.3 172.06,152.9 173.68,161.1 173.35,160.3 173.90,166.6 174.11,168.2 175.37,164.0 175.05,170.2 174.02,170.8 175.12,166.2 175.28,170.3 174.83,175.0 175.98,167.0 176.03,170.4 177.52,174.4 176.38,176.8 177.20,180.3 175.03,171.5 175.79,180.3 177.84,182.5 177.92,187.6 177.26,176.4 176.56,185.6"/>
<polyline fill="none" stroke="#f00" stroke-width="1.6" stroke-linejoin="round" points="191.16,177.5 191.42,175.3 191.22,179.4 191.35,169.6 192.44,178.4 192.32,174.7 192.57,172.0 193.18,170.5 193.74,165.1 192.18,162.7 194.13,166.1 194.20,161.8 193.93,157.8 194.77,154.9 194.52,151.4 195.44,152.8 195.51,143.9 195.46,142.0 195.30,139.5 195.83,134.7 196.05,132.3 196.30,127.5 196.55,131.7 196.80,131.9 197.05,127.6 197.30,122.3 197.55,124.7 197.80,126.9 198.05,128.5 198.30,129.4 198.55,135.0 198.80,132.9 198.70,138.2 199.02,141.4 199.62,144.1 199.75,142.9 199.78,141.6 200.96,140.4 200.33,139.2 200.79,143.2 201.05,145.1 200.42,146.6 202.60,153.3 201.57,156.1 202.35,155.8 201.44,160.3 202.48,164.0 202.14,164.6 202.85,167.5 203.81,171.9 203.86,161.5 203.60,178.5"/>
<rect x="4.4" y="2.4" width="335.8" height="247" fill="none" stroke="#000" stroke-width="1.45"/>
<g stroke="#000" stroke-width="1.2"><line x1="4.40" y1="249.4" x2="4.40" y2="253.80"/><line x1="34.92" y1="249.4" x2="34.92" y2="252.00"/><line x1="65.45" y1="249.4" x2="65.45" y2="253.80"/><line x1="95.98" y1="249.4" x2="95.98" y2="252.00"/><line x1="126.50" y1="249.4" x2="126.50" y2="253.80"/><line x1="157.03" y1="249.4" x2="157.03" y2="252.00"/><line x1="187.55" y1="249.4" x2="187.55" y2="253.80"/><line x1="218.08" y1="249.4" x2="218.08" y2="252.00"/><line x1="248.60" y1="249.4" x2="248.60" y2="253.80"/><line x1="279.12" y1="249.4" x2="279.12" y2="252.00"/><line x1="309.65" y1="249.4" x2="309.65" y2="253.80"/><line x1="340.20" y1="249.4" x2="340.20" y2="252.00"/></g>
<g font-family="Liberation Sans" font-weight="bold" font-size="10.25" text-anchor="middle" fill="#000"><text x="4.40" y="265.8">0</text><text x="65.45" y="265.8">500</text><text x="126.50" y="265.8">1000</text><text x="187.55" y="265.8">1500</text><text x="248.60" y="265.8">2000</text><text x="309.65" y="265.8">2500</text></g>
<text class="ser" x="172.9" y="293.3" font-size="14.6" font-weight="bold" text-anchor="middle">Raman shift(cm-1)</text>
<rect x="17.7" y="13.2" width="210.8" height="29.5" fill="#fff" stroke="#888" stroke-width="1"/>
<line x1="19.8" y1="20.8" x2="47.9" y2="20.8" stroke="#000" stroke-width="1.5"/>
<line x1="19.8" y1="36" x2="47.9" y2="36" stroke="#f00" stroke-width="1.5"/>
<g class="ser" font-size="12.25" fill="#000" stroke="#000" stroke-width="0.28">
<text x="48.2" y="24.6">Dispersed functionalized graphene</text>
<text x="47.8" y="39.6">Undispersed functionalized graphene</text>
</g>
<g class="ser" font-size="10.5" fill="#000" stroke="#000" stroke-width="0.4">
<text x="85.7" y="95">1310 cm<tspan dx="0.6" dy="-6.3" font-size="7">-</tspan><tspan dx="0.7" dy="6.3">1</tspan></text>
<text x="80" y="144.7">1320 cm<tspan dx="0.6" dy="-6.3" font-size="7">-</tspan><tspan dx="0.7" dy="6.3">1</tspan></text>
<text x="245.3" y="121.5">1581 cm<tspan dx="0.6" dy="-6.3" font-size="7">-</tspan><tspan dx="0.7" dy="6.3">1</tspan></text>
<text x="226.9" y="165.6">1584 cm<tspan dx="0.6" dy="-6.3" font-size="7">-</tspan><tspan dx="0.7" dy="6.3">1</tspan></text>
</g>
<defs><marker id="ah" markerWidth="6.5" markerHeight="5" refX="6" refY="2.5" orient="auto" markerUnits="userSpaceOnUse"><path d="M0,0.5 L6.5,2.5 L0,4.5 L1,2.5 z" fill="#000"/></marker></defs>
<g stroke="#000" stroke-width="0.9" fill="none">
<line x1="133.4" y1="87" x2="159.8" y2="71.8" marker-end="url(#ah)"/>
<line x1="127.6" y1="135.6" x2="151.8" y2="132.9" marker-end="url(#ah)"/>
<line x1="245" y1="116.4" x2="203.5" y2="125.6" marker-end="url(#ah)"/>
<line x1="223.4" y1="155.5" x2="206.3" y2="152" marker-end="url(#ah)"/>
</g>
</svg>
</body></html>
